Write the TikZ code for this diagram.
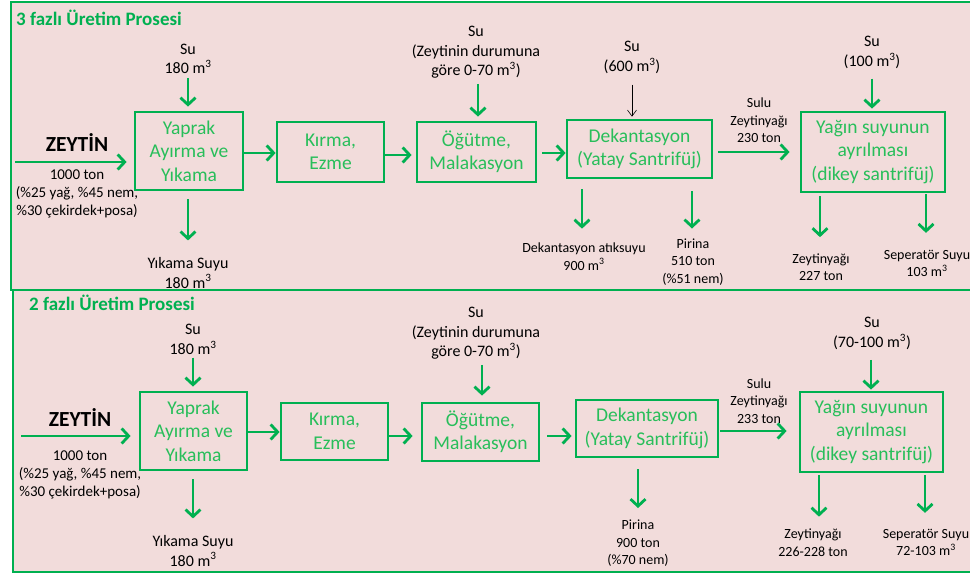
\documentclass[tikz,border=0pt]{standalone}
\usepackage{fontspec}
\setmainfont{Carlito}
\usetikzlibrary{arrows.meta}
\definecolor{bgpink}{RGB}{242,220,219}
\definecolor{gline}{RGB}{0,176,80}
\definecolor{gtext}{RGB}{40,190,90}
\newcommand{\cube}{\textsuperscript{3}}
\tikzset{
  panel/.style={draw=gline,line width=2pt,fill=bgpink},
  procbox/.style={draw=gline,line width=2.8pt,fill=bgpink,inner sep=0pt,align=center,text=gtext,font=\fontsize{19.5}{23.5}\selectfont},
  ga/.style={draw=gline,line width=2.8pt,-{Straight Barb[length=7pt,width=15pt]}},
  ta/.style={draw=black,line width=0.6pt,-{Straight Barb[length=6pt,width=9pt]}},
  lblA/.style={inner sep=0pt,align=center,font=\fontsize{16}{19.5}\selectfont},
  lblB/.style={inner sep=0pt,align=center,font=\fontsize{14}{17.5}\selectfont},
  lblC/.style={inner sep=0pt,align=center,font=\fontsize{15}{18}\selectfont},
  zeyt/.style={inner sep=0pt,font=\fontsize{21.5}{25}\selectfont\bfseries},
  ptitle/.style={inner sep=0pt,anchor=west,text=gline,font=\fontsize{19}{23}\selectfont\bfseries}
}
\begin{document}
\begin{tikzpicture}[x=1pt,y=-1pt]
\useasboundingbox (0,0) rectangle (970,575);
\fill[white] (0,0) rectangle (970,575);
% panels
\path[panel] (11,2) rectangle (980,289.5);
\path[panel] (12.5,290) rectangle (980,572);

% ================= TOP PANEL =================
\node[ptitle] (t1) at (16,18) {3 fazlı Üretim Prosesi};

\node[procbox,minimum width=108pt,minimum height=78pt] (a1) at (189,151) {Yaprak\\Ayırma ve\\Yıkama};
\node[procbox,minimum width=107pt,minimum height=60pt] (a2) at (330.5,152) {Kırma,\\Ezme};
\node[procbox,minimum width=119pt,minimum height=60pt] (a3) at (476.5,152) {Öğütme,\\Malakasyon};
\node[procbox,minimum width=145pt,minimum height=58pt] (a4) at (639.5,149) {Dekantasyon\\(Yatay Santrifüj)};
\node[procbox,minimum width=144pt,minimum height=80pt] (a5) at (873,152) {Yağın suyunun\\ayrılması\\(dikey santrifüj)};

\node[zeyt] (az) at (77,143) {ZEYTİN};
\node[lblC] (azd) at (77,194) {1000 ton\\(\%25 yağ, \%45 nem,\\\%30 çekirdek+posa)};
\coordinate (azin) at (15,162);
\draw[ga,shorten >=7pt] (azin) -- (azin -| a1.west);

\node[lblA] (as1) at (188,59) {Su\\180 m\cube};
\draw[ga,shorten <=4pt,shorten >=4pt] (as1.south) -- (as1.south |- a1.north);
\node[lblA] (aw1) at (188,273) {Yıkama Suyu\\180 m\cube};
\draw[ga,shorten <=8pt,shorten >=17pt] (aw1.north |- a1.south) -- (aw1.north);

\draw[ga] (a1.east |- 0,153) -- (a2.west |- 0,153);
\draw[ga] (a2.east |- 0,155) -- ([xshift=-4pt]a3.west |- 0,155);
\draw[ga,shorten <=5pt] (a3.east |- 0,153) -- (a4.west |- 0,153);

\node[lblA] (as3) at (476,52.5) {Su\\(Zeytinin durumuna\\göre 0-70 m\cube)};
\draw[ga,shorten <=5pt,shorten >=4pt] ([xshift=2pt]as3.south) -- ([xshift=2pt]as3.south |- a3.north);

\node[lblA] (as4) at (632,57.5) {Su\\(600 m\cube)};
\draw[ta,shorten <=11pt,shorten >=2pt] (as4.south) -- (as4.south |- a4.north);

\node[lblB] (adk) at (584,256.5) {Dekantasyon atıksuyu\\900 m\cube};
\draw[ga,shorten <=10pt,shorten >=14pt] ([xshift=-2pt]adk.north |- a4.south) -- ([xshift=-2pt]adk.north);
\node[lblB] (apr) at (693,262) {Pirina\\510 ton\\(\%51 nem)};
\draw[ga,shorten <=12pt,shorten >=10pt] ([xshift=-1pt]apr.north |- a4.south) -- ([xshift=-1pt]apr.north);

\node[lblB] (asl) at (759,120.5) {Sulu\\Zeytinyağı\\230 ton};
\draw[ga,shorten <=5pt,shorten >=10pt] (a4.east |- 0,152) -- (a5.west |- 0,152);

\node[lblA] (as5) at (872,52.5) {Su\\(100 m\cube)};
\draw[ga,shorten <=10pt,shorten >=2pt] (as5.south) -- (as5.south |- a5.north);

\node[lblB] (azy) at (821,267) {Zeytinyağı\\227 ton};
\draw[ga,shorten <=3pt,shorten >=16pt] ([xshift=-1pt]azy.north |- a5.south) -- ([xshift=-1pt]azy.north);
\node[lblB] (asp) at (927,263.5) {Seperatör Suyu\\103 m\cube};
\draw[ga,shorten <=1pt,shorten >=17pt] ([xshift=-1pt]asp.north |- a5.south) -- ([xshift=-1pt]asp.north);

% ================= BOTTOM PANEL =================
\node[ptitle] (t2) at (29,303) {2 fazlı Üretim Prosesi};

\node[procbox,minimum width=107pt,minimum height=78pt] (b1) at (193.5,431) {Yaprak\\Ayırma ve\\Yıkama};
\node[procbox,minimum width=107pt,minimum height=57pt] (b2) at (334.5,431.5) {Kırma,\\Ezme};
\node[procbox,minimum width=117pt,minimum height=58pt] (b3) at (480.5,432) {Öğütme,\\Malakasyon};
\node[procbox,minimum width=142pt,minimum height=57pt] (b4) at (647,428.5) {Dekantasyon\\(Yatay Santrifüj)};
\node[procbox,minimum width=143pt,minimum height=80pt] (b5) at (871.5,432) {Yağın suyunun\\ayrılması\\(dikey santrifüj)};

\node[zeyt] (bz) at (80,418) {ZEYTİN};
\node[lblC] (bzd) at (80,475) {1000 ton\\(\%25 yağ, \%45 nem,\\\%30 çekirdek+posa)};
\coordinate (bzin) at (21,436);
\draw[ga,shorten >=8pt] (bzin) -- (bzin -| b1.west);

\node[lblA] (bs1) at (193,339.5) {Su\\180 m\cube};
\draw[ga,shorten <=3pt,shorten >=4pt] (bs1.south) -- (bs1.south |- b1.north);
\node[lblA] (bw1) at (193,551) {Yıkama Suyu\\180 m\cube};
\draw[ga,shorten <=8pt,shorten >=17pt] (bw1.north |- b1.south) -- (bw1.north);

\draw[ga] (b1.east |- 0,432) -- (b2.west |- 0,432);
\draw[ga] (b2.east |- 0,436) -- ([xshift=-8pt]b3.west |- 0,436);
\draw[ga,shorten <=7pt] (b3.east |- 0,436) -- ([xshift=-3pt]b4.west |- 0,436);

\node[lblA] (bs3) at (476,333.5) {Su\\(Zeytinin durumuna\\göre 0-70 m\cube)};
\draw[ga,shorten <=5pt,shorten >=6pt] ([xshift=6pt]bs3.south) -- ([xshift=6pt]bs3.south |- b3.north);

\node[lblB] (bpr) at (638,543.5) {Pirina\\900 ton\\(\%70 nem)};
\draw[ga,shorten <=11pt,shorten >=12pt] (bpr.north |- b4.south) -- (bpr.north);

\node[lblB] (bsl) at (759,401) {Sulu\\Zeytinyağı\\233 ton};
\draw[ga,shorten <=1pt,shorten >=12pt] (b4.east |- 0,431) -- (b5.west |- 0,431);

\node[lblA] (bs5) at (872,333.5) {Su\\(70-100 m\cube)};
\draw[ga,shorten <=10pt,shorten >=1pt] ([xshift=-1pt]bs5.south) -- ([xshift=-1pt]bs5.south |- b5.north);

\node[lblB] (bzy) at (813,542.5) {Zeytinyağı\\226-228 ton};
\draw[ga,shorten <=2pt,shorten >=12pt] ([xshift=6pt]bzy.north |- b5.south) -- ([xshift=6pt]bzy.north);
\node[lblB] (bsp) at (926,542.5) {Seperatör Suyu\\72-103 m\cube};
\draw[ga,shorten <=2pt,shorten >=16pt] ([xshift=-1pt]bsp.north |- b5.south) -- ([xshift=-1pt]bsp.north);
\end{tikzpicture}
\end{document}
